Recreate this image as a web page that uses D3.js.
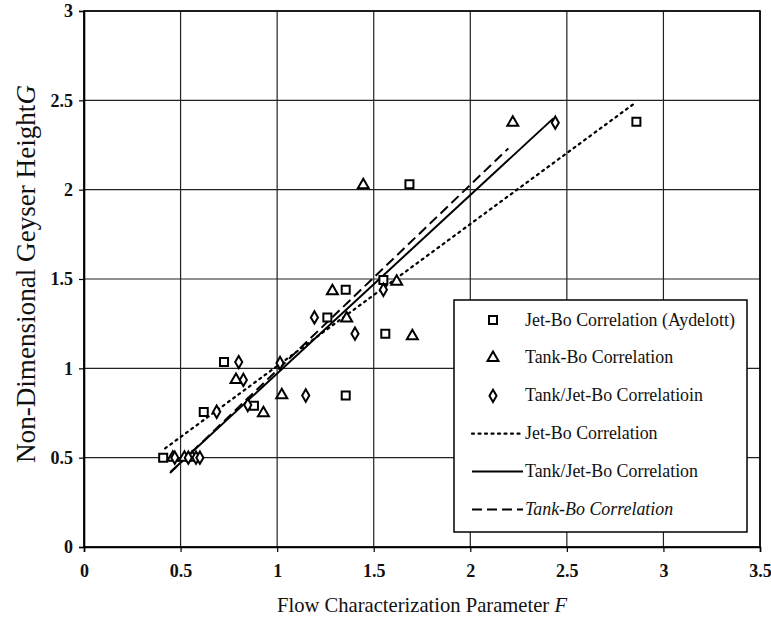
<!DOCTYPE html>
<html>
<head>
<meta charset="utf-8">
<script src="https://cdn.jsdelivr.net/npm/d3@7"></script>
<style>
  body { margin: 0; background: #fff; }
  svg text { font-family: "Liberation Serif", "Tinos", "Times New Roman", "DejaVu Serif", serif; fill: #111; }
</style>
</head>
<body>
<div id="viz"></div>
<script>
// Jet-Bo Correlation (Aydelott) -- squares
const jetX = [0.41, 0.62, 0.725, 0.88, 1.26, 1.355, 1.355, 1.55, 1.56, 1.685, 2.86];
const jetY = [0.50, 0.755, 1.035, 0.79, 1.285, 1.44, 0.848, 1.495, 1.194, 2.03, 2.38];

// Tank-Bo Correlation -- triangles
const tankX = [0.46, 0.52, 0.56, 0.787, 0.929, 1.024, 1.286, 1.36, 1.446, 1.619, 1.70, 2.22];
const tankY = [0.50, 0.50, 0.50, 0.935, 0.75, 0.85, 1.433, 1.28, 2.026, 1.485, 1.18, 2.375];

// Tank/Jet-Bo Correlatioin -- diamonds
const tjX = [0.47, 0.54, 0.58, 0.60, 0.687, 0.801, 0.825, 0.848, 1.015, 1.148, 1.193, 1.403, 1.55, 2.44];
const tjY = [0.50, 0.50, 0.50, 0.50, 0.757, 1.035, 0.935, 0.795, 1.03, 0.848, 1.285, 1.194, 1.44, 2.375];

// correlation lines (end points)
const jetLineX = [0.42, 2.845], jetLineY = [0.552, 2.479];
const tjLineX = [0.449, 2.43], tjLineY = [0.421, 2.399];
const tankLineX = [0.445, 2.197], tankLineY = [0.414, 2.231];

const xTicks = [0, 0.5, 1, 1.5, 2, 2.5, 3, 3.5];
const yTicks = [0, 0.5, 1, 1.5, 2, 2.5, 3];

const width = 771, height = 629;
const margin = {left: 84, right: 11, top: 11, bottom: 82};
const serif = '"Liberation Serif", "Tinos", "Times New Roman", "DejaVu Serif", serif';

const svg = d3.select('#viz').append('svg')
  .attr('width', width).attr('height', height)
  .attr('viewBox', `0 0 ${width} ${height}`);

const x = d3.scaleLinear().domain([0, 3.5]).range([margin.left, width - margin.right]);
const y = d3.scaleLinear().domain([0, 3]).range([height - margin.bottom, margin.top]);

// scale a text's font so it spans roughly the width seen in the scan
function fitText(sel, target) {
  const fs = +sel.attr('font-size');
  const len = sel.node().getComputedTextLength();
  if (len > 0) sel.attr('font-size', (fs * target / len).toFixed(2));
}

// grid
svg.append('g').selectAll('line').data(xTicks).join('line')
  .attr('x1', d => x(d)).attr('x2', d => x(d))
  .attr('y1', y(0)).attr('y2', y(3))
  .attr('stroke', '#222').attr('stroke-width', 1.2);
svg.append('g').selectAll('line').data(yTicks).join('line')
  .attr('x1', x(0)).attr('x2', x(3.5))
  .attr('y1', d => y(d)).attr('y2', d => y(d))
  .attr('stroke', '#222').attr('stroke-width', 1.2);

// axes
const xAxis = svg.append('g')
  .attr('transform', `translate(0,${y(0)})`)
  .call(d3.axisBottom(x).tickValues(xTicks).tickFormat(d3.format('')).tickSize(5).tickPadding(12));
const yAxis = svg.append('g')
  .attr('transform', `translate(${x(0)},0)`)
  .call(d3.axisLeft(y).tickValues(yTicks).tickFormat(d3.format('')).tickSize(5).tickPadding(6));
[xAxis, yAxis].forEach(g => {
  g.attr('font-family', serif);
  g.select('.domain').attr('stroke', '#000').attr('stroke-width', 1.6);
  g.selectAll('.tick line').attr('stroke', '#000').attr('stroke-width', 1.2);
  g.selectAll('.tick text').attr('font-size', 18).attr('font-weight', 'bold').attr('fill', '#111');
});
// right and top border
svg.append('rect')
  .attr('x', x(0)).attr('y', y(3))
  .attr('width', x(3.5) - x(0)).attr('height', y(0) - y(3))
  .attr('fill', 'none').attr('stroke', '#000').attr('stroke-width', 1.6);

// correlation lines
const lineStyles = [
  {xs: jetLineX, ys: jetLineY, dash: '2,4.5', cap: 'round', w: 2.2},
  {xs: tjLineX, ys: tjLineY, dash: null, cap: 'butt', w: 2},
  {xs: tankLineX, ys: tankLineY, dash: '10,5', cap: 'butt', w: 2}
];
const line = d3.line().x(d => x(d[0])).y(d => y(d[1]));
lineStyles.forEach(s => {
  svg.append('path')
    .datum(d3.zip(s.xs, s.ys))
    .attr('d', line)
    .attr('fill', 'none').attr('stroke', '#000')
    .attr('stroke-width', s.w)
    .attr('stroke-linecap', s.cap)
    .attr('stroke-dasharray', s.dash);
});

// markers
const sqSym = d3.symbol().type(d3.symbolSquare).size(64);
const triSym = d3.symbol().type(d3.symbolTriangle).size(52);
const diaSym = d3.symbol().type(d3.symbolDiamond).size(44);

function drawMarkers(xs, ys, sym) {
  svg.append('g').selectAll('path').data(d3.zip(xs, ys)).join('path')
    .attr('d', sym)
    .attr('transform', d => `translate(${x(d[0])},${y(d[1])})`)
    .attr('fill', '#fff').attr('stroke', '#000').attr('stroke-width', 2);
}
drawMarkers(jetX, jetY, sqSym);
drawMarkers(tankX, tankY, triSym);
drawMarkers(tjX, tjY, diaSym);

// legend
const lg = svg.append('g');
lg.append('rect')
  .attr('x', 454).attr('y', 300).attr('width', 293).attr('height', 232)
  .attr('fill', '#fff').attr('stroke', '#000').attr('stroke-width', 1.5);
const legendItems = [
  {label: 'Jet-Bo Correlation (Aydelott)', sym: sqSym},
  {label: 'Tank-Bo Correlation', sym: triSym},
  {label: 'Tank/Jet-Bo Correlatioin', sym: diaSym},
  {label: 'Jet-Bo Correlation', line: lineStyles[0]},
  {label: 'Tank/Jet-Bo Correlation', line: lineStyles[1]},
  {label: 'Tank-Bo Correlation', line: lineStyles[2], italic: true}
];
const legendTexts = [];
legendItems.forEach((it, i) => {
  const cy = 320 + i * 37.9;
  if (it.sym) {
    lg.append('path').attr('d', it.sym)
      .attr('transform', `translate(493,${cy})`)
      .attr('fill', '#fff').attr('stroke', '#000').attr('stroke-width', 2);
  } else {
    lg.append('line').attr('x1', 472).attr('x2', 523).attr('y1', cy).attr('y2', cy)
      .attr('stroke', '#000').attr('stroke-width', it.line.w)
      .attr('stroke-linecap', it.line.cap)
      .attr('stroke-dasharray', it.line.dash);
  }
  legendTexts.push(lg.append('text').attr('x', 525).attr('y', cy + 5.5)
    .attr('font-size', 17)
    .attr('font-style', it.italic ? 'italic' : null)
    .text(it.label));
});
// size all legend labels from the widest one
{
  const len = legendTexts[0].node().getComputedTextLength();
  const fs = len > 0 ? 17 * 210 / len : 17;
  legendTexts.forEach(t => t.attr('font-size', fs.toFixed(2)));
}

// axis titles
const xt = svg.append('text')
  .attr('x', 422).attr('y', 612)
  .attr('text-anchor', 'middle').attr('font-size', 21);
xt.append('tspan').text('Flow Characterization Parameter ');
xt.append('tspan').attr('font-style', 'italic').text('F');
fitText(xt, 290);

const yt = svg.append('text')
  .attr('transform', 'translate(35,274) rotate(-90)')
  .attr('text-anchor', 'middle').attr('font-size', 22);
yt.append('tspan').text('Non-Dimensional Geyser Height');
yt.append('tspan').attr('font-style', 'italic').text('G');
fitText(yt, 378);
</script>
</body>
</html>
